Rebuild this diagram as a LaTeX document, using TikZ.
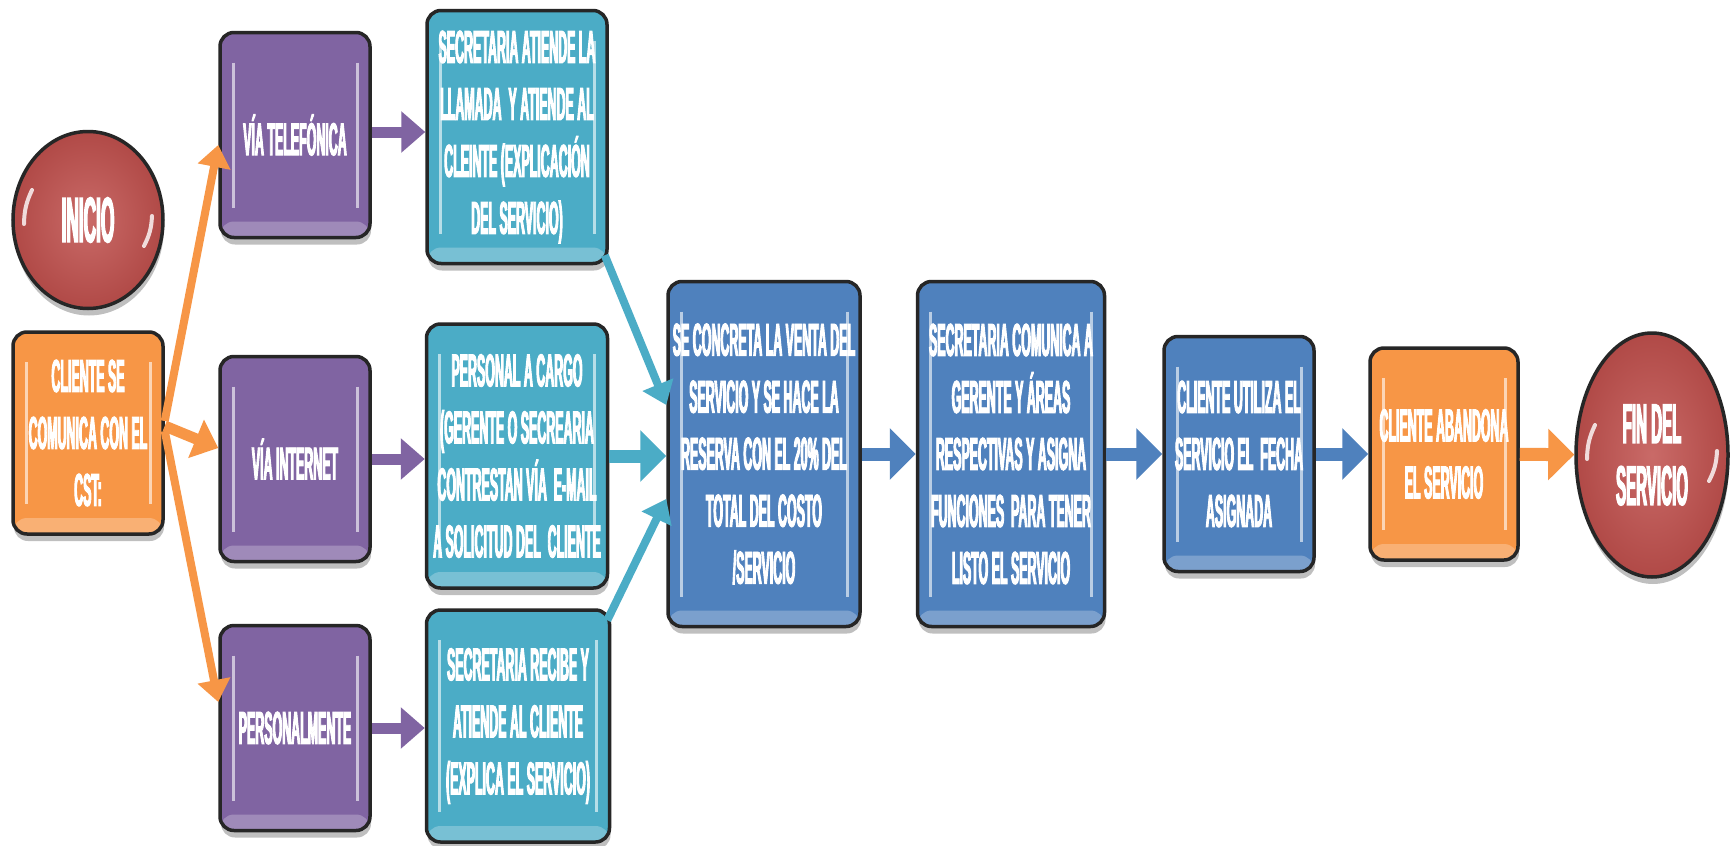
\documentclass[tikz,border=0pt]{standalone}
\usepackage{fontspec}
\newfontfamily\flowfont{Liberation Sans}[FakeStretch=0.27,FakeBold=2]
\usetikzlibrary{arrows.meta,shapes.geometric,shadows}

\definecolor{cpurple}{HTML}{8064A2}
\definecolor{caqua}{HTML}{4BACC6}
\definecolor{cblue}{HTML}{4F81BD}
\definecolor{corange}{HTML}{F79646}
\definecolor{cred}{HTML}{C0504D}

\tikzset{
  flowbox/.style={
    rectangle, rounded corners=14pt, draw=black!85, line width=3.5pt,
    fill=#1, text=white, align=center, inner sep=0pt,
    font=\flowfont\bfseries\fontsize{46}{57}\selectfont,
    drop shadow={shadow xshift=1pt, shadow yshift=-7pt, opacity=.25, fill=black},
    path picture={
      \fill[white, opacity=.25] (path picture bounding box.south west)
        rectangle ([yshift=16pt]path picture bounding box.south east);
      \draw[white!60!#1, line width=3pt]
        ([xshift=13pt,yshift=-30pt]path picture bounding box.north west) --
        ([xshift=13pt,yshift=30pt]path picture bounding box.south west);
      \draw[white!60!#1, line width=3pt]
        ([xshift=-13pt,yshift=-30pt]path picture bounding box.north east) --
        ([xshift=-13pt,yshift=30pt]path picture bounding box.south east);
    }},
  endpoint/.style={
    ellipse, draw=black!85, line width=3.5pt,
    inner color=cred!85!white, outer color=cred!92!black,
    text=white, align=center, inner sep=0pt,
    drop shadow={shadow xshift=1pt, shadow yshift=-7pt, opacity=.25, fill=black},
    path picture={
      \draw[white, opacity=.8, line width=4pt, line cap=round]
        ([xshift=11pt,yshift=-4pt]path picture bounding box.west) to[bend left=12]
        ([xshift=19pt,yshift=30pt]path picture bounding box.west);
      \draw[white, opacity=.8, line width=4pt, line cap=round]
        ([xshift=-11pt,yshift=4pt]path picture bounding box.east) to[bend left=12]
        ([xshift=-19pt,yshift=-26pt]path picture bounding box.east);
    }},
  bigarrow/.style={draw=#1, line width=13pt, -{Triangle[length=26pt,width=50pt]}},
  midarrow/.style={draw=#1, line width=11pt, -{Triangle[length=24pt,width=40pt]}},
  slimarrow/.style={draw=#1, line width=8pt, -{Triangle[length=22pt,width=32pt]}},
}

\begin{document}
\begin{tikzpicture}[x=1pt,y=-1pt]
\fill[white] (0,0) rectangle (1735,846);
\useasboundingbox (0,0) rectangle (1735,846);

% start and end
\node[endpoint, minimum width=150pt, minimum height=177pt,
      font=\flowfont\bfseries\fontsize{64}{66}\selectfont] (inicio) at (88,220) {INICIO};
\node[endpoint, minimum width=152pt, minimum height=244pt,
      font=\flowfont\bfseries\fontsize{56}{62}\selectfont] (fin) at (1652,455) {FIN DEL\\SERVICIO};

% client contact
\node[flowbox=corange, minimum width=150pt, minimum height=202pt] (cli) at (88,433)
  {CLIENTE SE\\COMUNICA CON EL\\CST:};

% channels
\node[flowbox=cpurple, minimum width=150pt, minimum height=205pt] (vtel) at (295,135) {VÍA TELEFÓNICA};
\node[flowbox=cpurple, minimum width=150pt, minimum height=205pt] (vint) at (295,459) {VÍA INTERNET};
\node[flowbox=cpurple, minimum width=150pt, minimum height=205pt] (vper) at (295,728) {PERSONALMENTE};

% attention per channel
\node[flowbox=caqua, minimum width=180pt, minimum height=253pt] (ctel) at (517,137)
  {SECRETARIA ATIENDE LA\\LLAMADA\ \ Y ATIENDE AL\\CLEINTE (EXPLICACIÓN\\DEL SERVICIO)};
\node[flowbox=caqua, minimum width=181pt, minimum height=264pt] (cint) at (517,456)
  {PERSONAL A CARGO\\(GERENTE O SECREARIA\\CONTRESTAN VÍA\ \ E-MAIL\\A SOLICITUD DEL\ \ CLIENTE};
\node[flowbox=caqua, minimum width=183pt, minimum height=232pt] (cper) at (518,726)
  {SECRETARIA RECIBE Y\\ATIENDE AL CLIENTE\\(EXPLICA EL SERVICIO)};

% main sequence
\node[flowbox=cblue, minimum width=192pt, minimum height=345pt] (venta) at (764,454)
  {SE CONCRETA LA VENTA DEL\\SERVICIO Y SE HACE LA\\RESERVA CON EL 20\% DEL\\TOTAL DEL COSTO\\/SERVICIO};
\node[flowbox=cblue, minimum width=187pt, minimum height=345pt] (comu) at (1011,454)
  {SECRETARIA COMUNICA A\\GERENTE Y ÁREAS\\RESPECTIVAS Y ASIGNA\\FUNCIONES\ \ PARA TENER\\LISTO EL SERVICIO};
\node[flowbox=cblue, minimum width=150pt, minimum height=235pt] (usa) at (1239,454)
  {CLIENTE UTILIZA EL\\SERVICIO EL\ \ FECHA\\ASIGNADA};
\node[flowbox=corange, minimum width=148pt, minimum height=212pt] (aband) at (1444,454)
  {CLIENTE ABANDONA\\EL SERVICIO};

% client to channels
\draw[slimarrow=corange] ([yshift=12pt]cli.east) -- ([yshift=-10pt]vtel.west);
\draw[midarrow=corange] ([yshift=7pt]cli.east) -- ([yshift=11pt]vint.west);
\draw[slimarrow=corange] ([yshift=2pt]cli.east) -- ([yshift=26pt]vper.west);

% channels to attention
\draw[midarrow=cpurple] ([yshift=3pt]vtel.east) -- ([yshift=3pt]vtel.east -| ctel.west);
\draw[midarrow=cpurple] (vint.east) -- (vint.east -| cint.west);
\draw[midarrow=cpurple] (vper.east) -- (vper.east -| cper.west);

% attention to sale
\draw[slimarrow=caqua] ([xshift=-4pt,yshift=10pt]ctel.south east) -- ([yshift=49pt]venta.west);
\draw[bigarrow=caqua] (cint.east) -- (cint.east -| venta.west);
\draw[slimarrow=caqua] ([xshift=-4pt,yshift=-12pt]cper.north east) -- ([yshift=-45pt]venta.west);

% main sequence arrows
\draw[bigarrow=cblue] (venta) -- (comu);
\draw[bigarrow=cblue] (comu) -- (usa);
\draw[bigarrow=cblue] (usa) -- (aband);
\draw[bigarrow=corange] (aband) -- (fin);
\end{tikzpicture}
\end{document}
